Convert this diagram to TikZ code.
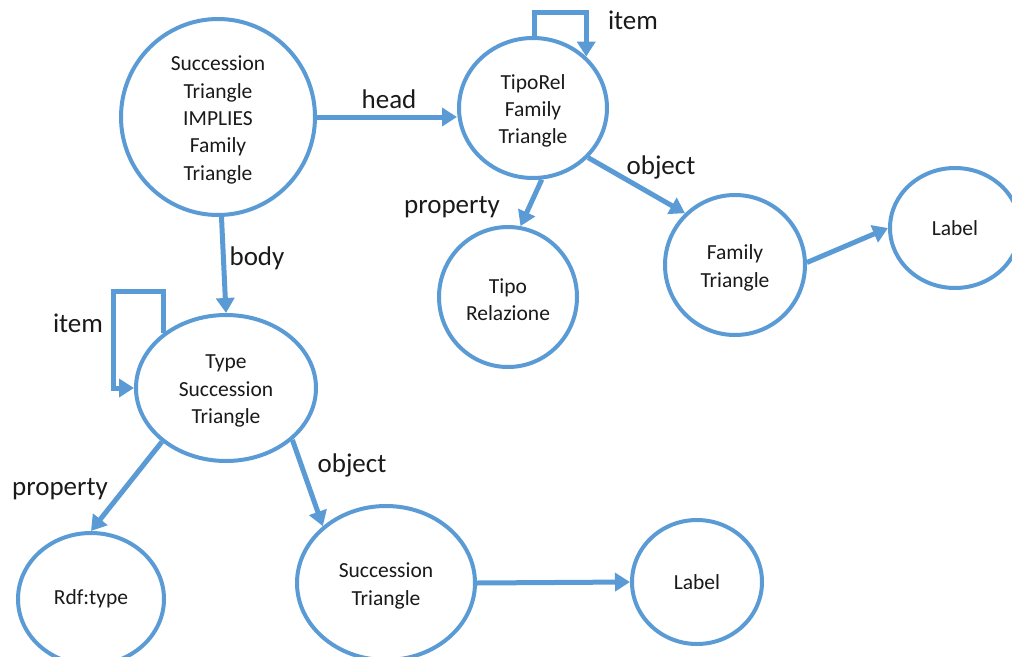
\documentclass[tikz,border=0pt]{standalone}
\usepackage{fontspec}
\setmainfont{Carlito}
\usetikzlibrary{shapes.geometric,arrows.meta}
\definecolor{edgeblue}{HTML}{5B9BD5}
\definecolor{txt}{HTML}{1A1A1A}
\begin{document}
\begin{tikzpicture}[x=1pt,y=-1pt,
  bubble/.style={ellipse,draw=edgeblue,line width=4pt,fill=white,inner sep=0pt,
    align=center,text=txt,font=\fontsize{21.5}{27.3}\selectfont},
  bubtext/.style={align=center,text=txt,inner sep=0pt,yshift=-3pt,
    font=\fontsize{21.5}{27.3}\selectfont},
  tx/.style={label={[bubtext]center:{#1}}},
  arr/.style={draw=edgeblue,line width=5pt,-{Triangle[length=15pt,width=18pt]}},
  lbl/.style={text=txt,font=\fontsize{27}{32}\selectfont,inner sep=0pt}]
\useasboundingbox (0,0) rectangle (1012,656);

% nodes
\node[bubble,minimum width=194pt,minimum height=196pt,
  tx={Succession\\Triangle\\IMPLIES\\Family\\Triangle}] (main) at (218,117) {};
\node[bubble,minimum width=148pt,minimum height=140pt,
  tx={TipoRel\\Family\\Triangle}] (tr) at (533,108) {};
\node[bubble,minimum width=138pt,minimum height=140pt,
  tx={Tipo\\Relazione}] (tp) at (508,297) {};
\node[bubble,minimum width=140pt,minimum height=140pt,
  tx={Family\\Triangle}] (ft) at (735,265) {};
\node[bubble,minimum width=130pt,minimum height=120pt] (lb1) at (955,228)
  {Label};
\node[bubble,minimum width=180pt,minimum height=146pt,
  tx={Type\\Succession\\Triangle}] (ts) at (226,388) {};
\node[bubble,minimum width=146pt,minimum height=132pt] (rd) at (91,599)
  {Rdf:type};
\node[bubble,minimum width=178pt,minimum height=154pt,
  tx={Succession\\Triangle}] (st) at (386,583) {};
\node[bubble,minimum width=130pt,minimum height=124pt] (lb2) at (697,582)
  {Label};

% connectors
\draw[arr] (main.east) -- (main.east -| tr.west);
\draw[arr] (main.-88) -- (ts.north);
\draw[arr] (tr.89) -- ++(0,-24) -| (tr.44);
\draw[arr] (tr.-83) -- (tp.80);
\draw[arr] (tr.-42) -- (ft.134);
\draw[arr] (ft.2) -- (lb1.west);
\draw[arr] (ts.139) |- (113,291) |- (ts.west);
\draw[arr] (ts.-140) -- (rd.north);
\draw[arr] (ts.-38) -- (st.138);
\draw[arr] (st.east) -- (lb2.west);

% connector labels
\node[lbl] (lhead) at (389,99) {head};
\node[lbl] (lbody) at (257,258) {body};
\node[lbl] (litem1) at (633,20) {item};
\node[lbl] (litem2) at (78,323) {item};
\node[lbl] (lprop1) at (452,207) {property};
\node[lbl] (lobj1) at (661,167) {object};
\node[lbl] (lprop2) at (60,489) {property};
\node[lbl] (lobj2) at (352,465) {object};
\end{tikzpicture}
\end{document}
